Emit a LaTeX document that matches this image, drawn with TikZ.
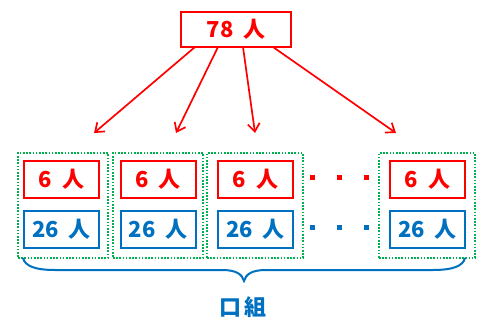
\documentclass[tikz,border=0pt]{standalone}
\usepackage{fontspec}
\newfontfamily\jp{Noto Sans CJK JP}
\usetikzlibrary{arrows.meta}
\definecolor{myred}{RGB}{255,0,0}
\definecolor{myblue}{RGB}{0,112,192}
\definecolor{mygreen}{RGB}{0,176,80}
\tikzset{
  txt/.style={font=\jp\bfseries\fontsize{22}{22}\selectfont},
  redbox/.style={draw=myred,line width=2pt,minimum width=75pt,minimum height=37pt,inner sep=0pt,text=myred,txt},
  bluebox/.style={draw=myblue,line width=2pt,minimum width=75pt,minimum height=37pt,inner sep=0pt,text=myblue,txt},
  group/.style={draw=mygreen,line width=1.6pt,dash pattern=on 1.6pt off 1.6pt,minimum width=90pt,minimum height=105pt,inner sep=0pt},
  arr/.style={draw=myred,line width=1.7pt,-{Straight Barb[length=8pt,width=12pt,line width=1.7pt]}},
  dotr/.style={fill=myred,minimum width=5pt,minimum height=5pt,inner sep=0pt},
  dotb/.style={fill=myblue,minimum width=5pt,minimum height=5pt,inner sep=0pt},
}
\begin{document}
\begin{tikzpicture}[x=1pt,y=-1pt]
\useasboundingbox (0,0) rectangle (490,327);
% top box
\node[draw=myred,line width=2pt,minimum width=110pt,minimum height=35pt,inner sep=0pt,text=myred,txt] (top) at (236,29.5) {78\hspace{0.45em}人};
% groups
\node[group] (g1) at (63,205.5) {};
\node[group] (g2) at (158,205.5) {};
\node[group,minimum width=96pt] (g3) at (255,205.5) {};
\node[group,minimum width=96pt] (g4) at (427,205.5) {};
% boxes
\node[redbox] (r1) at (61.5,179.5) {6\hspace{0.45em}人};
\node[redbox] (r2) at (158,179.5) {6\hspace{0.45em}人};
\node[redbox] (r3) at (255.5,179.5) {6\hspace{0.45em}人};
\node[redbox] (r4) at (427.5,179.5) {6\hspace{0.45em}人};
\node[bluebox] (b1) at (61.5,229.5) {26\hspace{0.45em}人};
\node[bluebox] (b2) at (158,229.5) {26\hspace{0.45em}人};
\node[bluebox] (b3) at (255.5,229.5) {26\hspace{0.45em}人};
\node[bluebox] (b4) at (427.5,229.5) {26\hspace{0.45em}人};
% dots
\node[dotr] (dr1) at (312.5,177) {};
\node[dotr] (dr2) at (339.5,177) {};
\node[dotr] (dr3) at (366.5,177) {};
\node[dotb] (db1) at (312.5,227) {};
\node[dotb] (db2) at (339.5,227) {};
\node[dotb] (db3) at (366.5,227) {};
% arrows
\coordinate (s1) at (195,47);
\coordinate (s2) at (218,47);
\coordinate (s3) at (243,47);
\coordinate (s4) at (273,47);
\coordinate (e1) at (94,133);
\coordinate (e2) at (176,133);
\coordinate (e3) at (255,133);
\coordinate (e4) at (396,133);
\draw[arr] (s1) -- (e1);
\draw[arr] (s2) -- (e2);
\draw[arr] (s3) -- (e3);
\draw[arr] (s4) -- (e4);
% brace
\coordinate (bl) at (23,258);
\coordinate (br) at (465,258);
\coordinate (bt) at (244,281);
\draw[myblue,line width=2pt] (bl) .. controls (25,266) and (35,270) .. (55,270) -- (222,270) .. controls (236,270) and (242,274) .. (bt) .. controls (246,274) and (252,270) .. (266,270) -- (433,270) .. controls (453,270) and (463,266) .. (br);
\node[text=myblue,font=\jp\bfseries\fontsize{22}{22}\selectfont] (lab) at (243,307) {口\hspace{0.15em}組};
\end{tikzpicture}
\end{document}
